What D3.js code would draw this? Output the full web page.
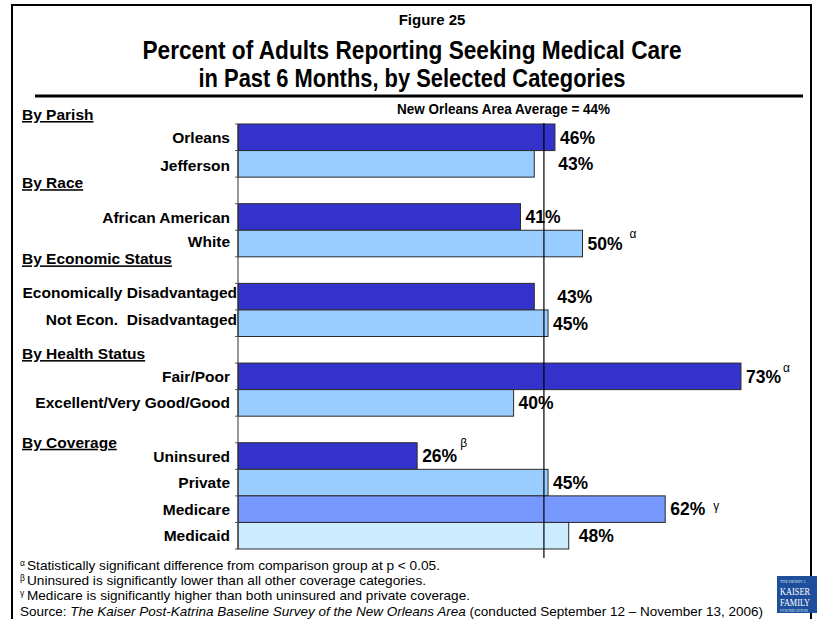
<!DOCTYPE html>
<html>
<head>
<meta charset="utf-8">
<script src="https://cdn.jsdelivr.net/npm/d3@7"></script>
<style>
  html, body { margin: 0; padding: 0; background: #fff; }
  svg { display: block; }
  text { font-family: "Liberation Sans", Arial, sans-serif; fill: #000; }
</style>
</head>
<body>
<svg id="chart" width="817" height="619"></svg>
<script>
// ---------------- data ----------------
const figureLabel = "Figure 25";
const titleLines = ["Percent of Adults Reporting Seeking Medical Care",
                    "in Past 6 Months, by Selected Categories"];
const averageLabel = "New Orleans Area Average = 44%";
const averageValue = 44.4;   // position of the reference line

const categories = ["Orleans", "Jefferson", "",
                    "African American", "White", "",
                    "Economically Disadvantaged", "Not Econ.  Disadvantaged", "",
                    "Fair/Poor", "Excellent/Very Good/Good", "",
                    "Uninsured", "Private", "Medicare", "Medicaid"];
const values = [46, 43, null,
                41, 50, null,
                43, 45, null,
                73, 40, null,
                26, 45, 62, 48];
const groups = ["By Parish", "By Parish", null,
                "By Race", "By Race", null,
                "By Economic Status", "By Economic Status", null,
                "By Health Status", "By Health Status", null,
                "By Coverage", "By Coverage", "By Coverage", "By Coverage"];
const marks = ["", "", "", "", "α", "", "", "", "", "α", "", "", "β", "", "γ", ""];
const sections = ["By Parish", "By Race", "By Economic Status", "By Health Status", "By Coverage"];
const footnotes = [
  {sym: "α", text: "Statistically significant difference from comparison group at p < 0.05."},
  {sym: "β", text: "Uninsured is significantly lower than all other coverage categories."},
  {sym: "γ", text: "Medicare is significantly higher than both uninsured and private coverage."}
];
const sourcePrefix = "Source: ";
const sourceTitle = "The Kaiser Post-Katrina Baseline Survey of the New Orleans Area";
const sourceRest = " (conducted September 12 – November 13, 2006)";
const logoLines = ["THE HENRY J.", "KAISER", "FAMILY", "FOUNDATION"];

// ---------------- layout / style ----------------
const palette = ["#3333CC", "#99CCFF", "#7799FF", "#CCEBFF"];
const svg = d3.select("#chart");

// frame
svg.append("rect").attr("x", 12).attr("y", 5).attr("width", 799).attr("height", 700)
  .attr("fill", "none").attr("stroke", "#000").attr("stroke-width", 2);

// titles
svg.append("text").attr("x", 432).attr("y", 25).attr("text-anchor", "middle")
  .attr("font-size", 15).attr("font-weight", "bold").text(figureLabel);
const titleLens = [539, 427];
titleLines.forEach((t, i) => {
  svg.append("text").attr("x", 412).attr("y", 58.5 + i * 28.5).attr("text-anchor", "middle")
    .attr("font-size", 25).attr("font-weight", "bold")
    .attr("textLength", titleLens[i]).attr("lengthAdjust", "spacingAndGlyphs").text(t);
});
svg.append("rect").attr("x", 35).attr("y", 94.5).attr("width", 768).attr("height", 3).attr("fill", "#000");

// scales
const x = d3.scaleLinear().domain([0, 100]).range([238, 927]);
const y = d3.scaleBand().domain(d3.range(categories.length)).range([124, 549]).padding(0);

// average label
svg.append("text").attr("x", 397).attr("y", 114).attr("font-size", 14).attr("font-weight", "bold")
  .attr("textLength", 213).attr("lengthAdjust", "spacingAndGlyphs").text(averageLabel);

// bars
const rows = categories.map((c, i) => ({c, v: values[i], g: groups[i], m: marks[i], i}));
const barRows = rows.filter(d => d.v !== null);
barRows.forEach(d => {
  d.pos = groups.slice(0, d.i).filter(g => g === d.g).length;
});
svg.append("g").selectAll("rect").data(barRows).join("rect")
  .attr("x", x(0))
  .attr("y", d => y(d.i))
  .attr("width", d => x(d.v) - x(0))
  .attr("height", y.bandwidth())
  .attr("fill", d => palette[d.pos])
  .attr("stroke", "#2a2a2a").attr("stroke-width", 1);

// category axis (line + ticks at band boundaries)
const axisG = svg.append("g");
const bounds = d3.range(categories.length).map(i => y(i)).concat([y(categories.length - 1) + y.bandwidth()]);
axisG.append("line").attr("x1", x(0)).attr("x2", x(0))
  .attr("y1", bounds[0]).attr("y2", bounds[bounds.length - 1])
  .attr("stroke", "#333").attr("stroke-width", 1);
axisG.selectAll("line.tick").data(bounds).join("line").attr("class", "tick")
  .attr("x1", x(0) - 3).attr("x2", x(0)).attr("y1", d => d).attr("y2", d => d)
  .attr("stroke", "#555").attr("stroke-width", 1);

// category labels
const labelNudgeX = {"Economically Disadvantaged": 7, "Not Econ.  Disadvantaged": 7};
const labelNudgeY = {"White": -2, "Economically Disadvantaged": -4, "Not Econ.  Disadvantaged": -4, "Jefferson": 2};
svg.append("g").selectAll("text").data(barRows).join("text")
  .attr("x", d => 230 + (labelNudgeX[d.c] || 0))
  .attr("y", d => y(d.i) + y.bandwidth() / 2 + (labelNudgeY[d.c] || 0))
  .attr("dy", "0.36em").attr("text-anchor", "end")
  .attr("font-size", 15.5).attr("font-weight", "bold")
  .style("white-space", "pre").text(d => d.c);

// average reference line
svg.append("line").attr("x1", x(averageValue)).attr("x2", x(averageValue))
  .attr("y1", 123).attr("y2", 558).attr("stroke", "#000").attr("stroke-width", 1.2);

// value labels
const valueNudge = {"Jefferson": 19, "Economically Disadvantaged": 18, "Medicaid": 5};
svg.append("g").selectAll("text").data(barRows).join("text")
  .attr("x", d => x(d.v) + 5 + (valueNudge[d.c] || 0))
  .attr("y", d => y(d.i) + y.bandwidth() / 2)
  .attr("dy", "0.36em")
  .attr("font-size", 17.5).attr("font-weight", "bold")
  .text(d => d.v + "%");

// significance marks
const markOffset = {"White": [7, -10], "Fair/Poor": [2, -9], "Uninsured": [3, -13], "Medicare": [8, -3]};
svg.append("g").selectAll("text").data(barRows.filter(d => d.m)).join("text")
  .attr("x", d => x(d.v) + 5 + 35 + markOffset[d.c][0])
  .attr("y", d => y(d.i) + y.bandwidth() / 2 + markOffset[d.c][1])
  .attr("dy", "0.36em").attr("font-size", 12).text(d => d.m);

// section headers
const sectionAnchor = sections.map(s => groups.indexOf(s));
const sectionDy = [-4, -15.5, -19, -4, 5];
svg.append("g").selectAll("text").data(sections).join("text")
  .attr("x", 22)
  .attr("y", (s, k) => y(sectionAnchor[k]) + sectionDy[k])
  .attr("font-size", 15.5).attr("font-weight", "bold")
  .attr("text-decoration", "underline").text(s => s);

// footnotes
const fnLens = [413, 399, 443];
footnotes.forEach((f, i) => {
  const by = 570 + i * 15.2;
  svg.append("text").attr("x", 20).attr("y", by - 4).attr("font-size", 8.5).text(f.sym);
  svg.append("text").attr("x", 27).attr("y", by).attr("font-size", 13)
    .attr("textLength", fnLens[i]).attr("lengthAdjust", "spacingAndGlyphs").text(f.text);
});
const src = svg.append("text").attr("x", 20).attr("y", 616).attr("font-size", 13)
  .attr("textLength", 743).attr("lengthAdjust", "spacingAndGlyphs");
src.append("tspan").text(sourcePrefix);
src.append("tspan").attr("font-style", "italic").text(sourceTitle);
src.append("tspan").text(sourceRest);

// logo
const logo = svg.append("g").attr("transform", "translate(777,576)");
logo.append("rect").attr("width", 40).attr("height", 37).attr("fill", "#1D4F9C");
const logoSpec = [[7, 4, 26], [19, 10, 30], [30, 10, 30], [35.5, 4, 28]];
logoLines.forEach((t, i) => {
  logo.append("text").attr("x", 3).attr("y", logoSpec[i][0]).attr("font-size", logoSpec[i][1])
    .attr("textLength", logoSpec[i][2]).attr("lengthAdjust", "spacingAndGlyphs")
    .style("fill", i === 1 || i === 2 ? "#fff" : "#dfe6f2")
    .style("font-family", "'Liberation Serif', serif").text(t);
});
</script>
</body>
</html>
